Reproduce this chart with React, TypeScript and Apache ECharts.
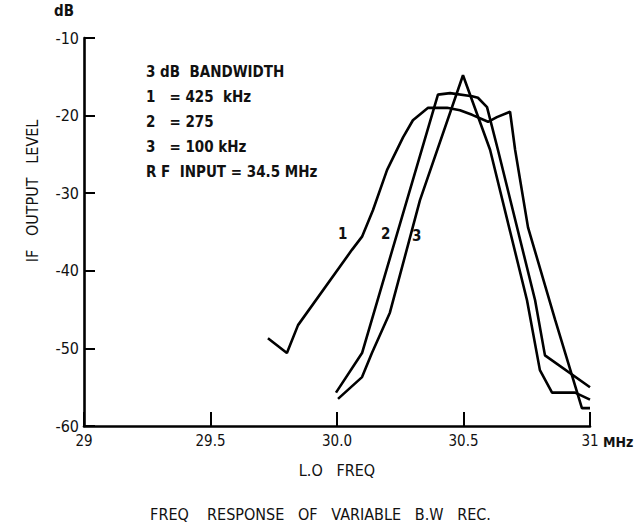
import React, { useEffect, useRef } from "react";
import * as echarts from "echarts";

// L.O frequency (MHz) and IF output level (dB) for each bandwidth setting
const curve1X = [29.727, 29.802, 29.846, 30.059, 30.099, 30.142, 30.198, 30.261, 30.3, 30.36, 30.435, 30.486, 30.534, 30.597, 30.632, 30.684, 30.704, 30.755, 30.862, 30.968, 31.0];
const curve1Y = [-48.7, -50.6, -47.0, -37.3, -35.6, -32.2, -27.0, -22.8, -20.6, -19.0, -19.0, -19.3, -19.9, -20.8, -20.2, -19.5, -24.4, -34.4, -46.3, -57.7, -57.7];

const curve2X = [29.996, 30.099, 30.399, 30.447, 30.534, 30.557, 30.593, 30.636, 30.783, 30.822, 31.0];
const curve2Y = [-55.7, -50.6, -17.3, -17.1, -17.5, -17.7, -18.9, -24.4, -43.8, -50.9, -55.0];

const curve3X = [30.004, 30.099, 30.138, 30.209, 30.328, 30.498, 30.605, 30.751, 30.802, 30.85, 30.941, 31.0];
const curve3Y = [-56.5, -53.7, -50.6, -45.4, -30.9, -14.8, -24.4, -43.8, -52.8, -55.7, -55.7, -56.6];

const xTickLabels: Record<string, string> = { "29": "29", "29.5": "29.5", "30": "30.0", "30.5": "30.5", "31": "31" };
const legendLines = ["3 dB  BANDWIDTH", "1   = 425  kHz", "2   = 275", "3   = 100 kHz", "R F  INPUT = 34.5 MHz"];
const curveLabels = ["1", "2", "3"];

const FONT = "'DejaVu Sans Condensed', 'DejaVu Sans', sans-serif";

export default function App() {
  const ref = useRef<HTMLDivElement>(null);
  useEffect(() => {
    if (!ref.current) return;
    const chart = echarts.init(ref.current, null, { renderer: "svg" });
    const mk = (xs: number[], ys: number[]) => xs.map((x, i) => [x, ys[i]]);
    const lineStyle = { color: "#000", width: 2.6 };
    const textStyle = { fill: "#111", fontFamily: FONT, fontSize: 15, fontWeight: "bold" as const };
    chart.setOption({
      animation: false,
      backgroundColor: "#fff",
      grid: { left: 84, right: 51, top: 38, bottom: 104 },
      xAxis: {
        type: "value",
        min: 29,
        max: 31,
        interval: 0.5,
        axisLine: { lineStyle: { color: "#000", width: 2.6 } },
        axisTick: { inside: true, length: 14, lineStyle: { color: "#000", width: 2 } },
        axisLabel: {
          color: "#111",
          fontFamily: FONT,
          fontSize: 15,
          margin: 7,
          formatter: (v: number) => xTickLabels[String(v)] ?? String(v),
        },
        splitLine: { show: false },
        name: "L.O   FREQ",
        nameLocation: "middle",
        nameGap: 36,
        nameTextStyle: { color: "#111", fontFamily: FONT, fontSize: 16 },
      },
      yAxis: {
        type: "value",
        min: -60,
        max: -10,
        interval: 10,
        axisLine: { lineStyle: { color: "#000", width: 2.6 } },
        axisTick: { inside: true, length: 11, lineStyle: { color: "#000", width: 2 } },
        axisLabel: { color: "#111", fontFamily: FONT, fontSize: 16, margin: 5 },
        splitLine: { show: false },
      },
      series: [
        { type: "line", data: mk(curve1X, curve1Y), showSymbol: false, symbol: "none", lineStyle, z: 3 },
        { type: "line", data: mk(curve2X, curve2Y), showSymbol: false, symbol: "none", lineStyle, z: 3 },
        { type: "line", data: mk(curve3X, curve3Y), showSymbol: false, symbol: "none", lineStyle, z: 3 },
      ],
      graphic: [
        { type: "text", left: 54, top: 3, style: { ...textStyle, text: "dB" } },
        {
          type: "text",
          x: 32,
          y: 191,
          rotation: Math.PI / 2,
          style: {
            fill: "#111",
            fontFamily: FONT,
            fontSize: 16,
            text: "IF   OUTPUT   LEVEL",
            align: "center",
            verticalAlign: "middle",
          },
        },
        { type: "text", left: 603, top: 435, style: { ...textStyle, fontSize: 14, text: "MHz" } },
        ...legendLines.map((t, i) => ({
          type: "text",
          left: 146,
          top: 64 + i * 25,
          style: { ...textStyle, text: t },
        })),
        { type: "text", left: 338, top: 226, style: { ...textStyle, text: curveLabels[0] } },
        { type: "text", left: 381, top: 226, style: { ...textStyle, text: curveLabels[1] } },
        { type: "text", left: 412, top: 228, style: { ...textStyle, text: curveLabels[2] } },
        {
          type: "text",
          left: "center",
          top: 506,
          style: { fill: "#111", fontFamily: FONT, fontSize: 16, text: "FREQ    RESPONSE   OF   VARIABLE   B.W   REC." },
        },
      ],
    });
    return () => chart.dispose();
  }, []);
  return <div ref={ref} style={{ position: "fixed", left: 0, top: 0, width: 641, height: 530 }} />;
}
